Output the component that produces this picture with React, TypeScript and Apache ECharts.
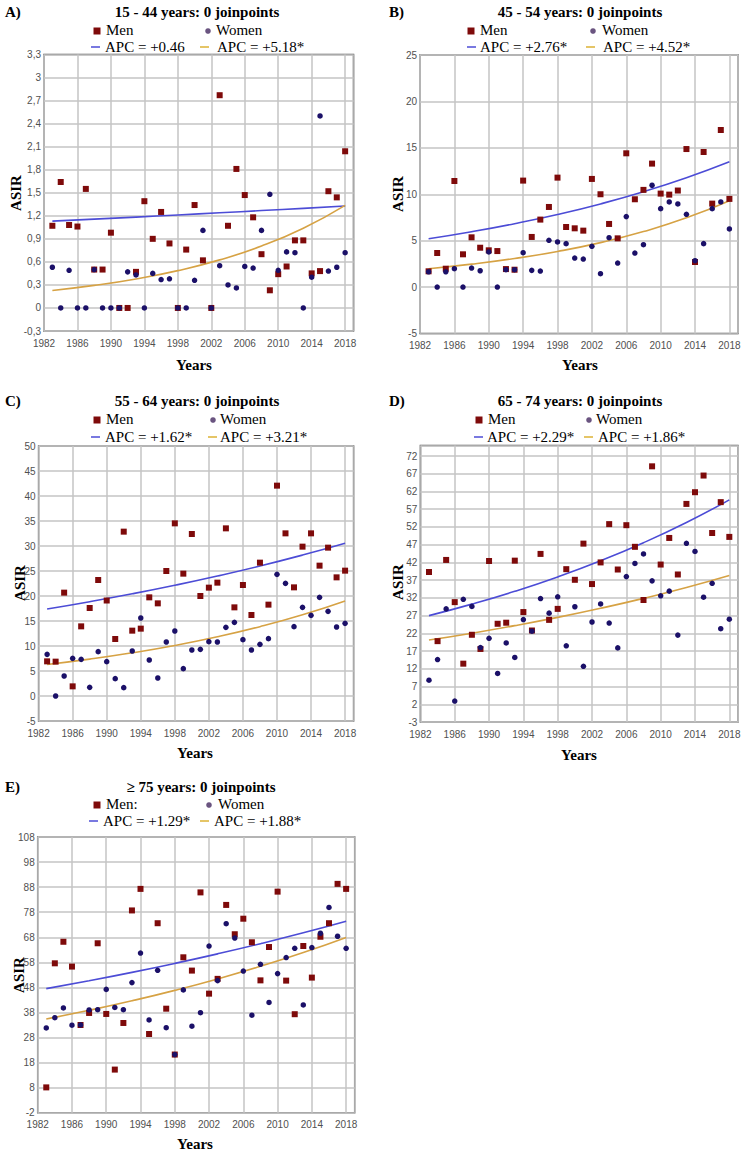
import { useEffect, useRef } from "react";
import * as echarts from "echarts";

// ---------- DATA ----------
const years = [
  1983, 1984, 1985, 1986, 1987, 1988, 1989, 1990, 1991, 1992, 1993, 1994,
  1995, 1996, 1997, 1998, 1999, 2000, 2001, 2002, 2003, 2004, 2005, 2006,
  2007, 2008, 2009, 2010, 2011, 2012, 2013, 2014, 2015, 2016, 2017, 2018,
];
const trendYears = [1983, 1988, 1993, 1998, 2003, 2008, 2013, 2018];

// A) 15 - 44 years
const menA = [1.07, 1.64, 1.08, 1.06, 1.55, 0.5, 0.5, 0.98, 0, 0, 0.47, 1.39, 0.9, 1.25, 0.84, 0, 0.76, 1.34, 0.62, 0, 2.77, 1.07, 1.81, 1.47, 1.18, 0.7, 0.23, 0.44, 0.54, 0.88, 0.88, 0.45, 0.48, 1.52, 1.44, 2.04];
const womenA = [0.53, 0, 0.49, 0, 0, 0.5, 0, 0, 0, 0.47, 0.43, 0, 0.45, 0.37, 0.38, 0, 0, 0.36, 1.01, 0, 0.55, 0.3, 0.26, 0.54, 0.52, 1.01, 1.48, 0.49, 0.73, 0.72, 0, 0.4, 2.5, 0.48, 0.53, 0.72];
const trendMenA = [1.13, 1.156, 1.183, 1.211, 1.239, 1.268, 1.297, 1.327];
const trendWomenA = [0.228, 0.294, 0.378, 0.486, 0.626, 0.806, 1.038, 1.336];

// B) 45 - 54 years
const menB = [1.7, 3.67, 1.98, 11.43, 3.53, 5.36, 4.24, 3.96, 3.88, 1.94, 1.87, 11.47, 5.4, 7.27, 8.63, 11.79, 6.47, 6.33, 6.08, 11.65, 10.0, 6.8, 5.25, 14.41, 9.46, 10.47, 13.3, 10.07, 9.96, 10.4, 14.87, 2.7, 14.55, 8.99, 16.92, 9.5];
const womenB = [1.65, 0, 1.65, 1.98, 0, 2.05, 1.76, 3.78, 0, 1.87, 1.87, 3.7, 1.8, 1.73, 5.04, 4.86, 4.68, 3.13, 3.02, 4.39, 1.44, 5.32, 2.59, 7.59, 3.67, 4.57, 10.97, 8.45, 9.17, 8.96, 7.84, 2.84, 4.68, 8.45, 9.17, 6.26];
const trendMenB = [5.2, 5.96, 6.83, 7.82, 8.96, 10.27, 11.77, 13.49];
const trendWomenB = [1.98, 2.47, 3.08, 3.84, 4.79, 5.98, 7.46, 9.31];

// C) 55 - 64 years
const menC = [6.93, 6.87, 20.67, 1.93, 13.93, 17.6, 23.2, 19.1, 11.4, 32.87, 13.07, 13.47, 19.73, 18.53, 25.0, 34.53, 24.47, 32.4, 20.0, 21.67, 22.67, 33.53, 17.73, 22.2, 16.2, 26.67, 18.27, 42.07, 32.53, 21.73, 29.87, 32.53, 26.07, 29.67, 23.73, 25.07];
const womenC = [8.33, 0, 4.0, 7.53, 7.33, 1.73, 8.87, 6.87, 3.47, 1.67, 9.0, 15.6, 7.2, 3.6, 10.8, 13.0, 5.47, 9.2, 9.33, 10.87, 10.8, 13.73, 14.73, 11.27, 9.2, 10.33, 11.47, 24.33, 22.53, 13.87, 17.73, 16.13, 19.73, 16.93, 13.8, 14.53];
const trendMenC = [17.4, 18.86, 20.44, 22.15, 24.0, 26.0, 28.18, 30.54];
const trendWomenC = [6.3, 7.38, 8.64, 10.11, 11.84, 13.87, 16.24, 19.01];

// D) 65 - 74 years
const menD = [39.3, 19.8, 42.7, 30.8, 13.45, 21.6, 17.6, 42.4, 24.7, 25.0, 42.5, 28.0, 22.8, 44.4, 25.8, 28.9, 40.1, 37.1, 47.3, 35.9, 42.0, 52.8, 40.0, 52.5, 46.4, 31.4, 69.1, 41.4, 48.9, 38.6, 58.5, 61.8, 66.5, 50.3, 59.0, 49.2];
const womenD = [8.8, 14.6, 28.9, 2.9, 31.6, 29.6, 18.0, 20.6, 10.7, 19.3, 15.2, 25.9, 22.6, 31.8, 27.7, 32.3, 18.5, 29.5, 12.7, 25.2, 30.3, 24.9, 17.9, 38.0, 41.7, 44.4, 36.8, 32.6, 33.9, 21.5, 47.4, 45.1, 32.2, 36.1, 23.3, 26.0];
const trendMenD = [27.0, 30.24, 33.86, 37.92, 42.47, 47.56, 53.26, 59.65];
const trendWomenD = [20.1, 22.04, 24.17, 26.5, 29.06, 31.86, 34.94, 38.31];

// E) >= 75 years
const menE = [8.1, 57.6, 66.2, 56.3, 33.0, 37.8, 65.6, 37.4, 15.2, 33.8, 78.7, 87.3, 29.4, 73.6, 39.5, 21.2, 60.0, 54.7, 85.9, 45.5, 51.4, 80.9, 69.2, 75.4, 66.0, 50.8, 64.1, 86.2, 50.7, 37.3, 64.5, 51.9, 68.2, 73.6, 89.3, 87.3];
const womenE = [31.8, 35.9, 39.8, 32.9, 33.0, 39.0, 39.1, 47.2, 40.0, 39.1, 49.9, 61.7, 35.0, 54.8, 31.9, 21.2, 47.0, 32.5, 37.9, 64.5, 50.7, 73.4, 67.7, 54.5, 36.9, 57.2, 42.0, 53.5, 59.9, 63.6, 41.0, 63.9, 69.6, 79.9, 68.4, 63.6];
const trendMenE = [47.5, 50.64, 53.99, 57.57, 61.38, 65.44, 69.77, 74.39];
const trendWomenE = [35.4, 38.86, 42.65, 46.81, 51.38, 56.4, 61.9, 67.94];

const panelLetters = ["A)", "B)", "C)", "D)", "E)"];
const panelTitles = [
  "15 - 44 years: 0 joinpoints",
  "45 - 54 years: 0 joinpoints",
  "55 - 64 years: 0 joinpoints",
  "65 - 74 years: 0 joinpoints",
  "\u2265 75 years: 0 joinpoints",
];
const menLabels = ["Men", "Men", "Men", "Men", "Men:"];
const womenLabel = "Women";
const apcMen = ["APC = +0.46", "APC = +2.76*", "APC = +1.62*", "APC = +2.29*", "APC = +1.29*"];
const apcWomen = ["APC = +5.18*", "APC = +4.52*", "APC = +3.21*", "APC = +1.86*", "APC = +1.88*"];
const yAxisName = "ASIR";
const xAxisName = "Years";

const yMins = [-0.3, -5, -5, -3, -2];
const yMaxs = [3.3, 25, 50, 75, 108];
const yIntervals = [0.3, 5, 5, 5, 10];
const xMin = 1982;
const xMax = 2019;
const xInterval = 4;

const menSeries = [menA, menB, menC, menD, menE];
const womenSeries = [womenA, womenB, womenC, womenD, womenE];
const trendMenSeries = [trendMenA, trendMenB, trendMenC, trendMenD, trendMenE];
const trendWomenSeries = [trendWomenA, trendWomenB, trendWomenC, trendWomenD, trendWomenE];

// ---------- LAYOUT ----------
const SERIF = '"Liberation Serif", "Times New Roman", serif';
const SANS = '"Liberation Sans", Arial, sans-serif';

const grids = [
  { left: 44, top: 54.5, width: 309.5, height: 276.5 },
  { left: 420, top: 55, width: 318, height: 278.5 },
  { left: 38.6, top: 446, width: 315, height: 275 },
  { left: 420.4, top: 445.4, width: 317.5, height: 276.6 },
  { left: 37.7, top: 837, width: 317, height: 275.7 },
];

const layouts = [
  { letterX: 5, titleX: 197, titleY: 12, r1: 30, r2: 47, sq: 97, menT: 106, circ: 208, womT: 216, d1: 91, apc1: 105, d2: 200, apc2: 217, asirX: 16, asirY: 193, yrX: 194, yrY: 365 },
  { letterX: 389, titleX: 580, titleY: 12, r1: 30, r2: 47, sq: 471, menT: 480, circ: 593, womT: 602, d1: 467, apc1: 480, d2: 586, apc2: 603, asirX: 398, asirY: 194, yrX: 580, yrY: 365 },
  { letterX: 5, titleX: 197, titleY: 401, r1: 419, r2: 437, sq: 97, menT: 106, circ: 213, womT: 220, d1: 91, apc1: 105, d2: 208, apc2: 220, asirX: 20, asirY: 583, yrX: 195, yrY: 753 },
  { letterX: 389, titleX: 580, titleY: 401, r1: 419, r2: 437, sq: 479, menT: 488, circ: 589, womT: 596, d1: 474, apc1: 487, d2: 584, apc2: 598, asirX: 398, asirY: 582, yrX: 579, yrY: 755 },
  { letterX: 5, titleX: 201, titleY: 787, r1: 804, r2: 821, sq: 97, menT: 106, circ: 209, womT: 218, d1: 89, apc1: 103, d2: 200, apc2: 214, asirX: 19, asirY: 975, yrX: 195, yrY: 1144 },
];

const MEN_COLOR = "#7e0a0a";
const WOMEN_COLOR = "#1b1068";
const WOMEN_LEGEND = "#6a5480";
const BLUE = "#4c4cd6";
const ORANGE = "#d6a244";
const ORANGE_LEGEND = "#dcb234";

function txt(text: string, x: number, y: number, o: any = {}) {
  return {
    type: "text",
    x,
    y,
    rotation: o.rotation || 0,
    z: 100,
    style: {
      text,
      fill: "#000",
      fontFamily: SERIF,
      fontSize: 15,
      fontWeight: o.bold ? "bold" : "normal",
      align: o.align || "left",
      verticalAlign: "middle",
    },
  };
}

export default function App() {
  const ref = useRef<HTMLDivElement>(null);
  useEffect(() => {
    document.body.style.margin = "0";
    if (!ref.current) return;
    const chart = echarts.init(ref.current, undefined, { renderer: "svg" });

    const graphic: any[] = [];
    layouts.forEach((L, i) => {
      graphic.push(txt(panelLetters[i], L.letterX, L.titleY, { bold: true }));
      graphic.push(txt(panelTitles[i], L.titleX, L.titleY, { bold: true, align: "center" }));
      graphic.push({ type: "rect", z: 100, shape: { x: L.sq - 3.5, y: L.r1 - 2.5, width: 7, height: 7 }, style: { fill: MEN_COLOR } });
      graphic.push(txt(menLabels[i], L.menT, L.r1));
      graphic.push({ type: "circle", z: 100, shape: { cx: L.circ, cy: L.r1 + 1, r: 2.8 }, style: { fill: WOMEN_LEGEND } });
      graphic.push(txt(womenLabel, L.womT, L.r1));
      graphic.push({ type: "line", z: 100, shape: { x1: L.d1, y1: L.r2, x2: L.d1 + 9, y2: L.r2 }, style: { stroke: BLUE, lineWidth: 1.5 } });
      graphic.push(txt(apcMen[i], L.apc1, L.r2));
      graphic.push({ type: "line", z: 100, shape: { x1: L.d2, y1: L.r2, x2: L.d2 + 9, y2: L.r2 }, style: { stroke: ORANGE_LEGEND, lineWidth: 1.5 } });
      graphic.push(txt(apcWomen[i], L.apc2, L.r2));
      graphic.push(txt(yAxisName, L.asirX, L.asirY, { bold: true, align: "center", rotation: Math.PI / 2 }));
      graphic.push(txt(xAxisName, L.yrX, L.yrY, { bold: true, align: "center" }));
    });

    const series: any[] = [];
    for (let i = 0; i < 5; i++) {
      series.push({
        type: "line",
        xAxisIndex: i,
        yAxisIndex: i,
        data: trendYears.map((y, k) => [y, trendMenSeries[i][k]]),
        smooth: true,
        showSymbol: false,
        silent: true,
        z: 2,
        lineStyle: { color: BLUE, width: 1.6 },
      });
      series.push({
        type: "line",
        xAxisIndex: i,
        yAxisIndex: i,
        data: trendYears.map((y, k) => [y, trendWomenSeries[i][k]]),
        smooth: true,
        showSymbol: false,
        silent: true,
        z: 2,
        lineStyle: { color: ORANGE, width: 1.6 },
      });
      series.push({
        type: "scatter",
        xAxisIndex: i,
        yAxisIndex: i,
        data: years.map((y, k) => [y, menSeries[i][k]]),
        symbol: "rect",
        symbolSize: 6,
        z: 3,
        itemStyle: { color: MEN_COLOR, opacity: 1 },
      });
      series.push({
        type: "scatter",
        xAxisIndex: i,
        yAxisIndex: i,
        data: years.map((y, k) => [y, womenSeries[i][k]]),
        symbol: "circle",
        symbolSize: 5.5,
        z: 4,
        itemStyle: { color: WOMEN_COLOR, opacity: 1 },
      });
    }

    chart.setOption({
      animation: false,
      backgroundColor: "#fff",
      grid: grids.map((g) => ({
        ...g,
        show: true,
        borderColor: "#5a5a5a",
        borderWidth: 1.5,
        backgroundColor: "transparent",
        containLabel: false,
      })),
      xAxis: grids.map((_, i) => ({
        type: "value",
        gridIndex: i,
        min: xMin,
        max: xMax,
        interval: xInterval,
        axisLine: { show: false },
        axisTick: { show: false },
        axisLabel: {
          showMaxLabel: false,
          formatter: (v: number) => String(v),
          color: "#505050",
          fontSize: 10,
          fontFamily: SANS,
          margin: 7,
        },
        splitLine: { show: true, lineStyle: { color: "#c4c4c4", width: 1.5 } },
      })),
      yAxis: grids.map((_, i) => ({
        type: "value",
        gridIndex: i,
        min: yMins[i],
        max: yMaxs[i],
        interval: yIntervals[i],
        axisLine: { show: false },
        axisTick: { show: false },
        axisLabel: {
          showMaxLabel: i !== 3,
          formatter: (v: number) => String(Math.round(v * 100) / 100).replace(".", ","),
          color: "#505050",
          fontSize: 10,
          fontFamily: SANS,
          margin: 3,
        },
        splitLine: { show: true, lineStyle: { color: "#c4c4c4", width: 1.5 } },
      })),
      series,
      graphic,
    });
    return () => chart.dispose();
  }, []);
  return <div ref={ref} style={{ width: 745, height: 1153 }} />;
}
